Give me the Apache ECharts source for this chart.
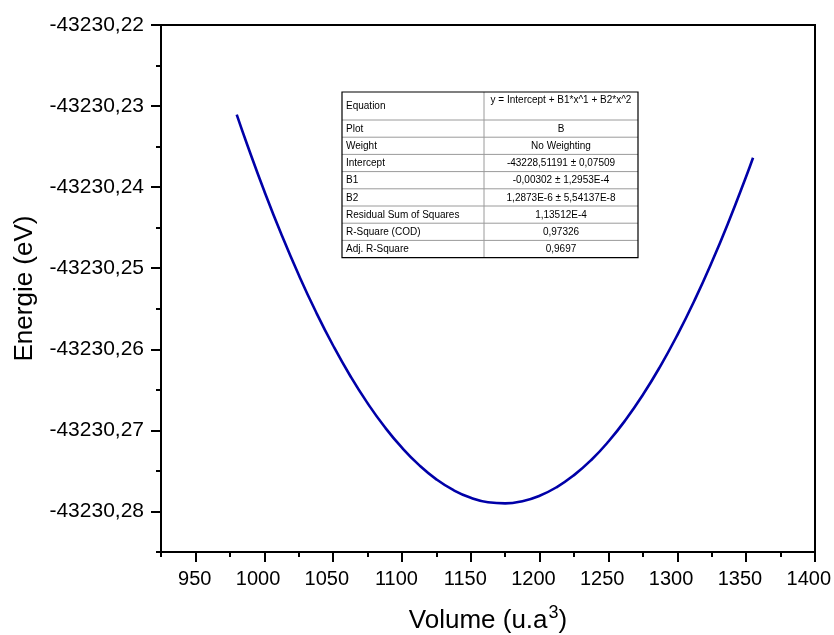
<!DOCTYPE html>
<html>
<head>
<meta charset="utf-8">
<script src="https://cdn.jsdelivr.net/npm/echarts@6/dist/echarts.min.js"></script>
<style>html,body{margin:0;padding:0;background:#fff}#c{width:834px;height:635px}</style>
</head>
<body>
<div id="c"></div>
<script>
// Data
const volume = [980, 987.5, 1000, 1012.5, 1025, 1037.5, 1050, 1062.5, 1075, 1087.5, 1100, 1112.5, 1125, 1137.5, 1150, 1162.5, 1175, 1187.5, 1200, 1212.5, 1225, 1237.5, 1250, 1262.5, 1275, 1287.5, 1300, 1312.5, 1325, 1337.5, 1350, 1355];
const energie = [-43230.23106, -43230.23471, -43230.24048, -43230.24585, -43230.25081, -43230.25537, -43230.25953, -43230.26329, -43230.26664, -43230.26959, -43230.27214, -43230.27429, -43230.27604, -43230.27738, -43230.27832, -43230.27886, -43230.27900, -43230.27873, -43230.27806, -43230.27699, -43230.27552, -43230.27365, -43230.27137, -43230.26869, -43230.26561, -43230.26213, -43230.25824, -43230.25396, -43230.24927, -43230.24417, -43230.23868, -43230.23637];
const xTicks = [950, 1000, 1050, 1100, 1150, 1200, 1250, 1300, 1350, 1400];
const xMinorTicks = [925, 975, 1025, 1075, 1125, 1175, 1225, 1275, 1325, 1375];
const yTicks = [-43230.28, -43230.27, -43230.26, -43230.25, -43230.24, -43230.23, -43230.22];
const yMinorTicks = [-43230.285, -43230.275, -43230.265, -43230.255, -43230.245, -43230.235, -43230.225];
const tableLabels = ['Equation', 'Plot', 'Weight', 'Intercept', 'B1', 'B2', 'Residual Sum of Squares', 'R-Square (COD)', 'Adj. R-Square'];
const tableValues = ['y = Intercept + B1*x^1 + B2*x^2', 'B', 'No Weighting', '-43228,51191 \u00b1 0,07509', '-0,00302 \u00b1 1,2953E-4', '1,2873E-6 \u00b1 5,54137E-8', '1,13512E-4', '0,97326', '0,9697'];

const FONT = '"Liberation Sans", Arial, sans-serif';
const chart = echarts.init(document.getElementById('c'), null, {renderer: 'canvas'});

// table layout (annotation)
const T = {left: 342, top: 92, w1: 142, w2: 154, h0: 28, h: 17.2};
const tableEls = [];
const totalH = T.h0 + T.h * (tableLabels.length - 1);
tableEls.push({type: 'rect', shape: {x: T.left, y: T.top, width: T.w1 + T.w2, height: totalH}, style: {fill: '#fff', stroke: 'none'}, z: 10});
for (let i = 0; i < tableLabels.length; i++) {
  const y0 = i === 0 ? T.top : T.top + T.h0 + T.h * (i - 1);
  const hh = i === 0 ? T.h0 : T.h;
  if (i > 0) {
    tableEls.push({type: 'line', shape: {x1: T.left, y1: y0, x2: T.left + T.w1 + T.w2, y2: y0}, style: {stroke: '#9a9a9a', lineWidth: 1}, z: 11});
  }
  tableEls.push({type: 'text', x: T.left + 4, y: y0 + hh / 2 + 0.5, style: {text: tableLabels[i], font: '10px ' + FONT, fill: '#000', textVerticalAlign: 'middle', textAlign: 'left'}, z: 12});
  tableEls.push({type: 'text', x: T.left + T.w1 + T.w2 / 2, y: i === 0 ? y0 + 8 : y0 + hh / 2 + 0.5, style: {text: tableValues[i], font: '10px ' + FONT, fill: '#000', textVerticalAlign: 'middle', textAlign: 'center'}, z: 12});
}
tableEls.push({type: 'line', shape: {x1: T.left + T.w1, y1: T.top, x2: T.left + T.w1, y2: T.top + totalH}, style: {stroke: '#9a9a9a', lineWidth: 1}, z: 11});
tableEls.push({type: 'rect', shape: {x: T.left, y: T.top, width: T.w1 + T.w2, height: totalH}, style: {fill: 'none', stroke: '#000', lineWidth: 1.2}, z: 13});

const fmtY = v => v.toFixed(2).replace('.', ',');
const fmtX = v => '{v|' + Math.round(v) + '}';

const option = {
  backgroundColor: '#fff',
  animation: false,
  grid: {left: 161, right: 19, top: 25, bottom: 83, containLabel: false, outerBoundsMode: 'none', show: true, borderColor: '#000', borderWidth: 2, backgroundColor: 'transparent'},
  xAxis: [{
    type: 'value', min: 925, max: 1400,
    name: '{a|Volume (u.a}{s|3}{a|)}', nameLocation: 'middle', nameGap: 46,
    nameTextStyle: {rich: {
      a: {fontSize: 26, fontFamily: FONT, color: '#000', verticalAlign: 'bottom', lineHeight: 30, padding: [14, 0, 0, 0]},
      s: {fontSize: 18, fontFamily: FONT, color: '#000', verticalAlign: 'top', lineHeight: 18, padding: [0, 0, 0, 1]}
    }},
    axisLine: {show: true, onZero: false, lineStyle: {color: '#000', width: 2}},
    axisTick: {show: true, customValues: xTicks, length: 10, lineStyle: {color: '#000', width: 2}},
    axisLabel: {show: true, customValues: xTicks, margin: 17, formatter: fmtX,
      rich: {v: {width: 32, align: 'right', fontSize: 20, fontFamily: FONT, color: '#000'}}},
    splitLine: {show: false}
  }, {
    type: 'value', min: 925, max: 1400, position: 'bottom',
    axisLine: {show: false},
    axisTick: {show: true, customValues: xMinorTicks, length: 5, lineStyle: {color: '#000', width: 2}},
    axisLabel: {show: false},
    splitLine: {show: false}
  }],
  yAxis: [{
    type: 'value', min: -43230.285, max: -43230.22,
    name: 'Energie (eV)', nameLocation: 'middle', nameGap: 123,
    nameTextStyle: {fontSize: 26, fontFamily: FONT, color: '#000'},
    axisLine: {show: true, onZero: false, lineStyle: {color: '#000', width: 2}},
    axisTick: {show: true, customValues: yTicks, length: 10, lineStyle: {color: '#000', width: 2}},
    axisLabel: {show: true, customValues: yTicks, margin: 17, fontSize: 21, fontFamily: FONT, color: '#000', formatter: fmtY},
    splitLine: {show: false}
  }, {
    type: 'value', min: -43230.285, max: -43230.22, position: 'left',
    axisLine: {show: false},
    axisTick: {show: true, customValues: yMinorTicks, length: 5, lineStyle: {color: '#000', width: 2}},
    axisLabel: {show: false},
    splitLine: {show: false}
  }],
  series: [{
    type: 'line',
    data: volume.map((v, i) => [v, energie[i]]),
    smooth: true,
    showSymbol: false,
    lineStyle: {color: '#0000a8', width: 2.6},
    itemStyle: {color: '#0000a8'}
  }],
  graphic: tableEls
};
chart.setOption(option);
</script>
</body>
</html>
